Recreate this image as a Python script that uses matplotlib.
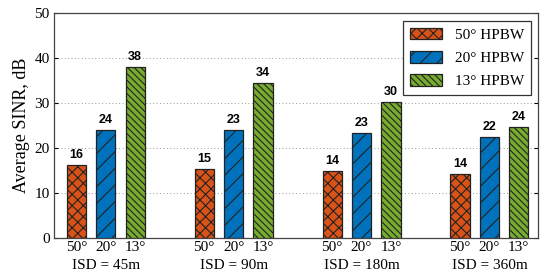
import matplotlib.pyplot as plt
import matplotlib.transforms as mtransforms
import numpy as np

plt.rcParams['hatch.linewidth'] = 0.8

groups = ["ISD = 45m", "ISD = 90m", "ISD = 180m", "ISD = 360m"]
beams = ["50°", "20°", "13°"]
legend_labels = ["50° HPBW", "20° HPBW", "13° HPBW"]
sinr_50 = [16.2, 15.3, 14.9, 14.2]
sinr_20 = [24.0, 23.9, 23.3, 22.5]
sinr_13 = [38.0, 34.5, 30.3, 24.7]

colors = ['#D95319', '#0072BD', '#77AC30']
hatches = ['xxx', '//', '\\' * 5]
serif = 'Liberation Serif'

fig = plt.figure(figsize=(5.44, 2.75), dpi=100)
ax = fig.add_axes([0.099, 0.1345, 0.89, 0.8185])

x = np.arange(len(groups))
offset = 0.23
width = 0.15
series = [sinr_50, sinr_20, sinr_13]
tick_pos = []
tick_lab = []
for i, vals in enumerate(series):
    pos = x + (i - 1) * offset
    ax.bar(pos, vals, width, color=colors[i], hatch=hatches[i],
           edgecolor='#222222', linewidth=0.9, label=legend_labels[i], zorder=3)
    for p, v in zip(pos, vals):
        ax.text(p, v + 0.9, str(int(v)), ha='center', va='bottom',
                fontsize=9, fontweight='bold', family='Liberation Sans')
    tick_pos += list(pos)
    tick_lab += [beams[i]] * len(groups)

ax.set_xticks(tick_pos)
ax.set_xticklabels(tick_lab, family=serif, fontsize=11)
ax.tick_params(axis='x', length=0, pad=2)
trans = mtransforms.blended_transform_factory(ax.transData, ax.transAxes)
for g, name in zip(x, groups):
    ax.text(g, -0.095, name, transform=trans, ha='center', va='top',
            family=serif, fontsize=11)

ax.set_xlim(-0.406, 3.38)
ax.set_ylim(0, 50)
ax.set_yticks([0, 10, 20, 30, 40, 50])
for lab in ax.get_yticklabels():
    lab.set_family(serif)
    lab.set_fontsize(11)
ax.tick_params(axis='y', direction='in', right=True, length=3, pad=3)
ax.grid(axis='y', linestyle=(0, (1, 2.5)), color='#999999', linewidth=0.7, zorder=0)
ax.set_ylabel('Average SINR, dB', family=serif, fontsize=13, labelpad=3)
for s in ax.spines.values():
    s.set_color('#444444')
    s.set_linewidth(0.9)

leg = ax.legend(loc='upper right', prop={'family': serif, 'size': 11},
                fancybox=False, edgecolor='#333333', framealpha=1,
                handlelength=2.1, handleheight=0.8, borderpad=0.45,
                labelspacing=0.6, handletextpad=0.85, borderaxespad=0,
                bbox_to_anchor=(0.986, 0.965))
leg.get_frame().set_linewidth(0.9)

fig.savefig('out.png', dpi=100)
